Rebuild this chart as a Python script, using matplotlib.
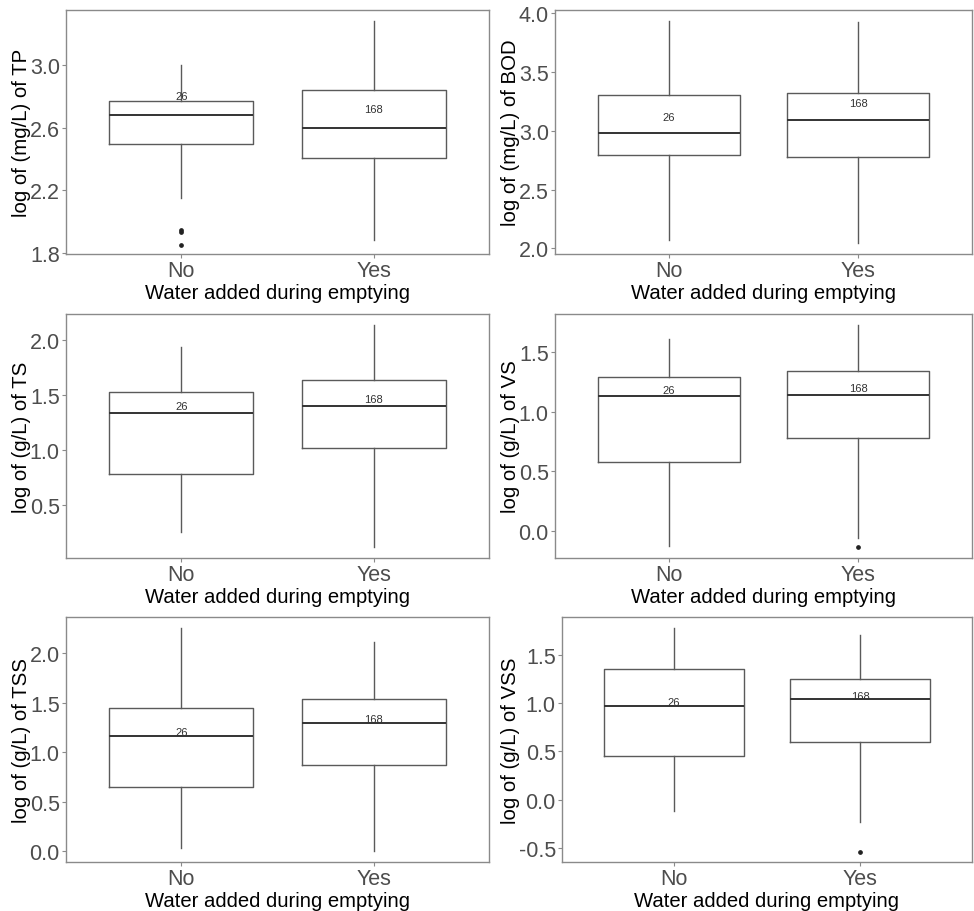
import numpy as np
import matplotlib
matplotlib.use('Agg')
import matplotlib.pyplot as plt

plt.rcParams['font.family'] = ['Liberation Sans', 'DejaVu Sans']

# Groups and counts shown above each box.
groups = ['No', 'Yes']
counts = [26, 168]

# One entry per panel: TP, BOD, TS, VS, TSS, VSS.  Each inner pair is (No, Yes).
ylabels = ['log of (mg/L) of TP', 'log of (mg/L) of BOD', 'log of (g/L) of TS',
           'log of (g/L) of VS', 'log of (g/L) of TSS', 'log of (g/L) of VSS']
whislo = [[2.154, 1.883], [2.074, 2.043], [0.252, 0.116],
          [-0.123, -0.059], [0.034, 0.0], [-0.114, -0.235]]
q1 = [[2.496, 2.41], [2.798, 2.78], [0.777, 1.013],
      [0.576, 0.78], [0.65, 0.865], [0.455, 0.60]]
med = [[2.68, 2.596], [2.983, 3.09], [1.333, 1.40],
       [1.134, 1.14], [1.162, 1.29], [0.969, 1.04]]
q3 = [[2.77, 2.84], [3.306, 3.32], [1.524, 1.638],
      [1.293, 1.345], [1.449, 1.54], [1.348, 1.253]]
whishi = [[3.0, 3.283], [3.938, 3.927], [1.931, 2.132],
          [1.609, 1.73], [2.256, 2.111], [1.78, 1.704]]
fliers = [[[1.95, 1.935, 1.855], []], [[], []], [[], []],
          [[], [-0.137]], [[], []], [[], [-0.537]]]
label_y = [[2.80, 2.717], [3.12, 3.235], [1.395, 1.46],
           [1.185, 1.197], [1.206, 1.338], [1.007, 1.078]]

yticks = [[1.8, 2.2, 2.6, 3.0], [2.0, 2.5, 3.0, 3.5, 4.0], [0.5, 1.0, 1.5, 2.0],
          [0.0, 0.5, 1.0, 1.5], [0.0, 0.5, 1.0, 1.5, 2.0], [-0.5, 0.0, 0.5, 1.0, 1.5]]
ylims = [(1.795, 3.351), (1.952, 4.028), (0.019, 2.233),
         (-0.227, 1.821), (-0.111, 2.365), (-0.645, 1.891)]

W, H = 974, 912
# axes boxes in pixels: left, top, right, bottom
boxes_px = [(66, 11, 489, 255), (555, 11, 972, 255),
            (66, 315, 489, 559), (555, 315, 972, 559),
            (66, 618, 489, 863), (562, 618, 972, 863)]

fig = plt.figure(figsize=(W / 100, H / 100), dpi=100)
border = '#8a8a8a'
boxcol = '#5a5a5a'

for i in range(6):
    l, t, r, b = boxes_px[i]
    ax = fig.add_axes([l / W, 1 - b / H, (r - l) / W, (b - t) / H])
    stats = []
    for j in range(2):
        stats.append(dict(whislo=whislo[i][j], q1=q1[i][j], med=med[i][j],
                          q3=q3[i][j], whishi=whishi[i][j],
                          fliers=np.array(fliers[i][j]), label=groups[j]))
    ax.bxp(stats, positions=[1, 2], widths=0.75, showcaps=False,
           boxprops=dict(color=boxcol, linewidth=1.0),
           whiskerprops=dict(color=boxcol, linewidth=1.0),
           medianprops=dict(color='#333333', linewidth=1.4),
           flierprops=dict(marker='o', markerfacecolor='#222222',
                           markeredgecolor='#222222', markersize=2.4))
    for j in range(2):
        ax.text(j + 1, label_y[i][j], str(counts[j]), ha='center', va='center',
                fontsize=8, color='#333333')
    ax.set_xlim(0.4, 2.6)
    ax.set_ylim(*ylims[i])
    ax.set_yticks(yticks[i])
    ax.set_yticklabels(['%.1f' % v for v in yticks[i]])
    ax.set_xticks([1, 2])
    ax.set_xticklabels(groups)
    ax.tick_params(axis='both', length=3, width=0.8, color=border,
                   labelsize=15.5, labelcolor='#4d4d4d', pad=1.5)
    for sp in ax.spines.values():
        sp.set_color(border)
        sp.set_linewidth(1.0)
    ax.set_ylabel(ylabels[i], fontsize=14.7, color='black', labelpad=-1)
    ax.set_xlabel('Water added during emptying', fontsize=14.6, color='black', labelpad=1.5)

fig.savefig('out.png', dpi=100)
